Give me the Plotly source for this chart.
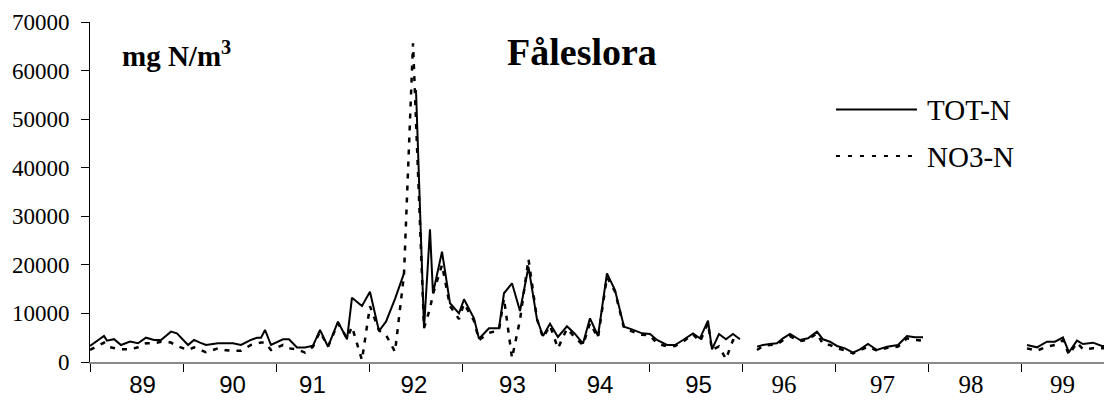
import plotly.graph_objects as go

# ---- data (decimal year of sample, concentrations in mg N/m3) ----
SAMPLE_YEAR = [
    89.000, 89.075, 89.150, 89.182, 89.258, 89.333, 89.429, 89.515, 89.601, 89.687, 89.762, 89.869, 89.933,
    90.052, 90.116, 90.180, 90.245, 90.373, 90.459, 90.534, 90.620, 90.727, 90.792, 90.835, 90.878, 90.942,
    91.071, 91.135, 91.221, 91.307, 91.393, 91.468, 91.554, 91.661, 91.758, 91.811, 91.918,
    92.004, 92.101, 92.176, 92.273, 92.369, 92.466, 92.498, 92.584, 92.648, 92.680, 92.777, 92.863, 92.959,
    93.013, 93.120, 93.174, 93.281, 93.388, 93.442, 93.528, 93.614, 93.705, 93.796, 93.861, 93.936,
    94.021, 94.118, 94.204, 94.290, 94.365, 94.451, 94.547, 94.633, 94.730, 94.815, 94.923,
    95.009, 95.084, 95.191, 95.277, 95.363, 95.470, 95.545, 95.631, 95.674, 95.749, 95.824, 95.899, 95.974,
    96.060,
    96.157, 96.221, 96.296, 96.371, 96.436, 96.511, 96.618, 96.704, 96.800, 96.865, 96.940,
    97.015, 97.101, 97.187, 97.262, 97.348, 97.444, 97.552, 97.670, 97.766, 97.852, 97.938,
    98.500,
    99.054, 99.161, 99.268, 99.354, 99.440, 99.504, 99.590, 99.655, 99.762, 99.858, 99.944,
]

TOT_N = [
    3300, 4300, 5350, 4400, 4700, 3500, 4200, 3850, 5000, 4550, 4550, 6250, 5900,
    3500, 4550, 4000, 3500, 3850, 3850, 3850, 3500, 4550, 5000, 5000, 6600, 3500,
    4670, 4670, 3000, 3000, 3350, 6600, 3150, 8300, 4670, 13240, 11530,
    14480, 6380, 8300, 13000, 18260, None, 56000, 6940, 27300, 14150, 22700, 12090, 10020,
    12900, 9000, 4800, 6940, 6940, 14150, 16200, 10500, 19600, 8800, 5350, 7900,
    5150, 7350, 5770, 3800, 9000, 5350, 18260, 14830, 7270, 6720, 5900,
    5770, 4530, 3500, 3500, 4530, 5900, 4880, 8500, 2610, 5770, 4670, 5770, 4670,
    None,
    3160, 3500, 3700, 3850, 4880, 5770, 4530, 4880, 6240, 4670, 4180,
    3300, 2810, 1920, 2610, 3700, 2470, 3160, 3500, 5350, 5080, 5080,
    None,
    3500, 3020, 4180, 4180, 5080, 2000, 4390, 3700, 3980, 3300, 3300,
]

NO3_N = [
    2470, 3300, 3980, 3160, 2810, 2610, 2610, 3020, 3850, 3850, 4180, 4000, 3300,
    2470, 3020, 2470, 2000, 2810, 2400, 2330, 2330, 3500, 3800, 4000, 4000, 2470,
    3500, 2810, 2600, 1920, 3160, 6240, 3160, 7960, 4880, 7270, 400,
    11500, 6500, 5560, 2100, 18000, 65600, 50000, 7000, 11000, 14000, 20000, 11500, 8850,
    12000, 8500, 4500, 6000, 6500, 13100, 800, 8650, 21200, 8850, 5000, 7500,
    2810, 6900, 5000, 3500, 8000, 5000, 17500, 14500, 7000, 6300, 5600,
    5500, 3800, 3200, 3300, 4200, 5700, 4180, 8000, 2470, 3200, 600, 4500, 4200,
    None,
    2470, 3300, 3500, 3600, 4500, 5300, 4300, 4600, 5900, 3700, 3500,
    2810, 2400, 1780, 2400, 3160, 2330, 2900, 3160, 4880, 4530, 4390,
    None,
    2810, 2330, 3160, 3500, 4500, 1500, 4000, 2610, 2810, 2810, 2810,
]

YEAR_LABELS = ["89", "90", "91", "92", "93", "94", "95", "96", "97", "98", "99"]
YEAR_BOUNDS = [89, 90, 91, 92, 93, 94, 95, 96, 97, 98, 99]
Y_TICKS = [0, 10000, 20000, 30000, 40000, 50000, 60000, 70000]

# ---- layout helpers ----
LABEL_POS = [89.563, 90.529, 91.387, 92.476, 93.533, 94.472, 95.529, 96.446, 97.503, 98.453, 99.434]
SERIF = "Liberation Serif"
SANS = "Liberation Sans"


def tick_text(lbl):
    # the last four year labels use a serif face in the original
    if int(lbl) >= 96:
        return '<span style="font-family:\'Liberation Serif\';font-size:25px">%s</span>' % lbl
    return lbl


fig = go.Figure()
fig.add_trace(go.Scatter(x=SAMPLE_YEAR, y=TOT_N, mode="lines", name="TOT-N",
                         line=dict(color="black", width=2), showlegend=False))
fig.add_trace(go.Scatter(x=SAMPLE_YEAR, y=NO3_N, mode="lines", name="NO3-N",
                         line=dict(color="black", width=2.5, dash="5px,7px"), showlegend=False))

# the page body has an 8px margin, so the figure is 8px smaller and offsets shrink by 8
fig.update_layout(
    width=1104, height=395,
    margin=dict(l=82, r=0, t=14, b=41, autoexpand=False),
    paper_bgcolor="white", plot_bgcolor="white",
    xaxis=dict(
        range=[89, 99.966], showgrid=False, zeroline=False,
        showline=True, linecolor="#8a8a8a", linewidth=2,
        tickmode="array", tickvals=LABEL_POS, ticktext=[tick_text(t) for t in YEAR_LABELS],
        ticks="",
        tickfont=dict(family=SANS, size=24, color="black"),
        minor=dict(tickmode="array", tickvals=YEAR_BOUNDS, ticks="outside", ticklen=8,
                   tickcolor="black", tickwidth=1, showgrid=False),
    ),
    yaxis=dict(
        range=[0, 70000], showgrid=False, zeroline=False,
        showline=True, linecolor="black", linewidth=1,
        tickmode="array", tickvals=Y_TICKS, ticktext=[str(v) for v in Y_TICKS],
        ticks="outside", ticklen=8, tickcolor="black",
        ticklabelstandoff=7,
        tickfont=dict(family=SERIF, size=23, color="black"),
    ),
    yaxis2=dict(
        range=[0, 70000], overlaying="y", anchor="x", side="left",
        showgrid=False, zeroline=False, showline=False,
        tickmode="array", tickvals=Y_TICKS, showticklabels=False,
        ticks="inside", ticklen=8, tickcolor="black",
    ),
)

annotations = [
    dict(text="<b>Fåleslora</b>", x=0.4814, y=0.912, xref="paper", yref="paper",
         xanchor="center", yanchor="middle", showarrow=False,
         font=dict(family=SERIF, size=38, color="black")),
    dict(text="<b>mg N/m<sup>3</sup></b>", x=0.0294, y=0.905, xref="paper", yref="paper",
         xanchor="left", yanchor="middle", showarrow=False,
         font=dict(family=SERIF, size=29, color="black")),
    dict(text="TOT-N", x=0.8170, y=0.741, xref="paper", yref="paper",
         xanchor="left", yanchor="middle", showarrow=False,
         font=dict(family=SERIF, size=29, color="black")),
    dict(text="NO3-N", x=0.8170, y=0.603, xref="paper", yref="paper",
         xanchor="left", yanchor="middle", showarrow=False,
         font=dict(family=SERIF, size=29, color="black")),
]
fig.update_layout(annotations=annotations)

# legend sample lines
fig.add_shape(type="line", xref="paper", yref="paper", x0=0.7299, x1=0.8092, y0=0.7426, y1=0.7426,
              line=dict(color="black", width=2))
fig.add_shape(type="line", xref="paper", yref="paper", x0=0.7299, x1=0.8092, y0=0.6059, y1=0.6059,
              line=dict(color="black", width=2, dash="4px,8px"))

fig.write_html("out.html")
